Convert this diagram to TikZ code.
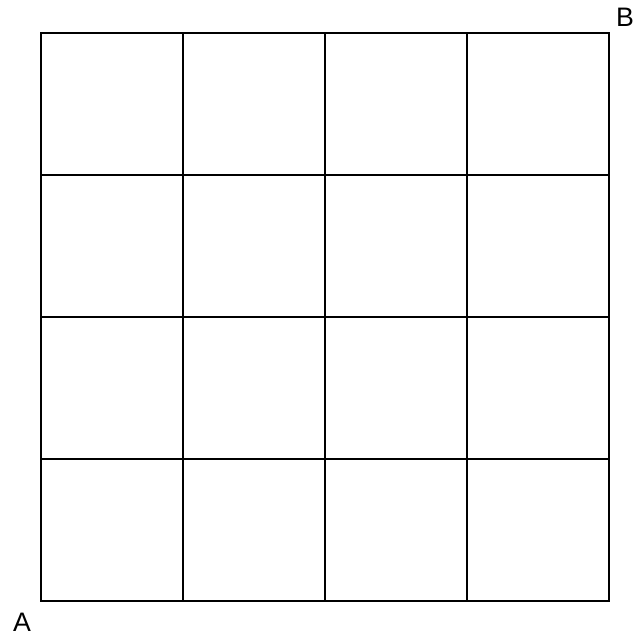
\documentclass[tikz,border=0pt]{standalone}
\usepackage{fontspec}
\setmainfont{Liberation Sans}
\begin{document}
\begin{tikzpicture}[x=0.025cm,y=0.025cm]
\useasboundingbox (0,0) rectangle (638,637);
\draw[line width=1.6pt] (41,36) rectangle (609,604);
\foreach \i in {1,2,3} {
  \draw[line width=1.6pt] (41+142*\i,36) -- (41+142*\i,604);
  \draw[line width=1.6pt] (41,36+142*\i) -- (609,36+142*\i);
}
\node[inner sep=0pt,font=\fontsize{19}{23}\selectfont] (ptA) at (22,15) {A};
\node[inner sep=0pt,font=\fontsize{19}{23}\selectfont] (ptB) at (625,620) {B};
\end{tikzpicture}
\end{document}
